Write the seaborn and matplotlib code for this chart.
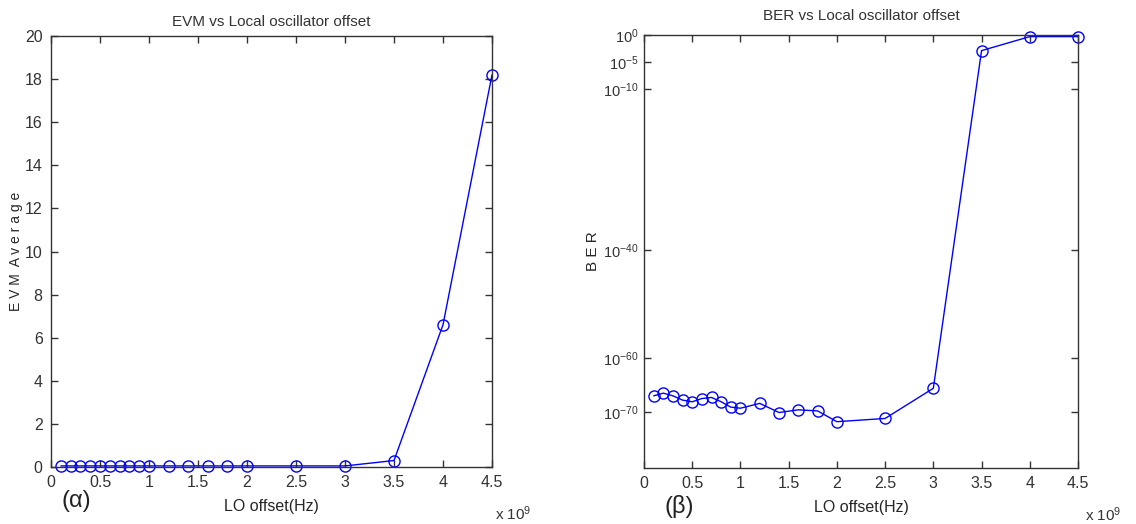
import seaborn as sns
import matplotlib.pyplot as plt
import numpy as np

# LO offset (x 10^9 Hz)
lo_offset = [0.1, 0.2, 0.3, 0.4, 0.5, 0.6, 0.7, 0.8, 0.9, 1.0,
             1.2, 1.4, 1.6, 1.8, 2.0, 2.5, 3.0, 3.5, 4.0, 4.5]
evm_avg = [0.05, 0.05, 0.05, 0.05, 0.05, 0.05, 0.05, 0.05, 0.05, 0.05,
           0.05, 0.05, 0.05, 0.05, 0.05, 0.05, 0.05, 0.3, 6.6, 18.2]
ber_exp = [-67.0, -66.5, -67.0, -67.8, -68.1, -67.5, -67.3, -68.1, -69.1, -69.3,
           -68.4, -70.1, -69.6, -69.8, -71.8, -71.2, -65.6, -2.9, -0.3, -0.3]
ber = [10.0 ** e for e in ber_exp]

evm_ticks = list(range(0, 21, 2))
x_ticks = [0, 0.5, 1, 1.5, 2, 2.5, 3, 3.5, 4, 4.5]
ber_ticks = [0, -5, -10, -40, -60, -70]

sns.set_style('ticks')
plt.rcParams['font.family'] = ['Liberation Sans', 'DejaVu Sans']
plt.rcParams['mathtext.default'] = 'regular'
plt.rcParams['axes.edgecolor'] = '#333333'
plt.rcParams['xtick.color'] = '#333333'
plt.rcParams['ytick.color'] = '#333333'
plt.rcParams['text.color'] = '#333333'

fig = plt.figure(figsize=(11.36, 5.24), dpi=100)
ax1 = fig.add_axes([51/1136, 1-467/524, 441/1136, 431/524])
ax2 = fig.add_axes([644/1136, 1-468/524, 434/1136, 433/524])

style = dict(color='blue', marker='o', markersize=8, markerfacecolor='none',
             markeredgecolor='blue', markeredgewidth=1.0, linewidth=1.0,
             clip_on=False)

sns.lineplot(x=lo_offset, y=evm_avg, ax=ax1, **style)
sns.lineplot(x=lo_offset, y=ber, ax=ax2, **style)

for ax in (ax1, ax2):
    ax.set_xlim(0, 4.5)
    ax.set_xticks(x_ticks)
    ax.set_xticklabels([f'{t:g}' for t in x_ticks])
    ax.tick_params(direction='in', top=True, right=True, length=5, width=1,
                   labelsize=11.5, pad=6)
    for s in ax.spines.values():
        s.set_linewidth(1.0)
        s.set_visible(True)
    ax.set_xlabel('LO offset(Hz)', fontsize=11.5, labelpad=6)

ax1.set_ylim(0, 20)
ax1.set_yticks(evm_ticks)
ax1.set_ylabel('E V M  A v e r a g e', fontsize=10)
ax1.yaxis.set_label_coords(-0.0635, 0.5)
ax1.set_title('EVM vs Local oscillator offset', fontsize=11, pad=7)

ax2.set_yscale('log')
ax2.set_ylim(10.0 ** -80.4, 1)
ax2.set_yticks([10.0 ** t for t in ber_ticks])
ax2.set_yticklabels([f'$10^{{{t}}}$' for t in ber_ticks])
ax2.minorticks_off()
ax2.tick_params(axis='y', labelsize=10.5, pad=4)
ax2.set_ylabel('B E R', fontsize=11)
ax2.yaxis.set_label_coords(-0.102, 0.5)
ax2.set_title('BER vs Local oscillator offset', fontsize=11, pad=11)

fig.text(495/1136, 1-514/524, r'x $10^9$', fontsize=11, ha='left', va='center')
fig.text(1085/1136, 1-515/524, r'x $10^9$', fontsize=11, ha='left', va='center')
fig.text(62/1136, 1-501/524, '(α)', fontsize=17,
         ha='left', va='center', color='#222222')
fig.text(665/1136, 1-506/524, '(β)', fontsize=17,
         ha='left', va='center', color='#222222')

fig.savefig('out.png', dpi=100)
